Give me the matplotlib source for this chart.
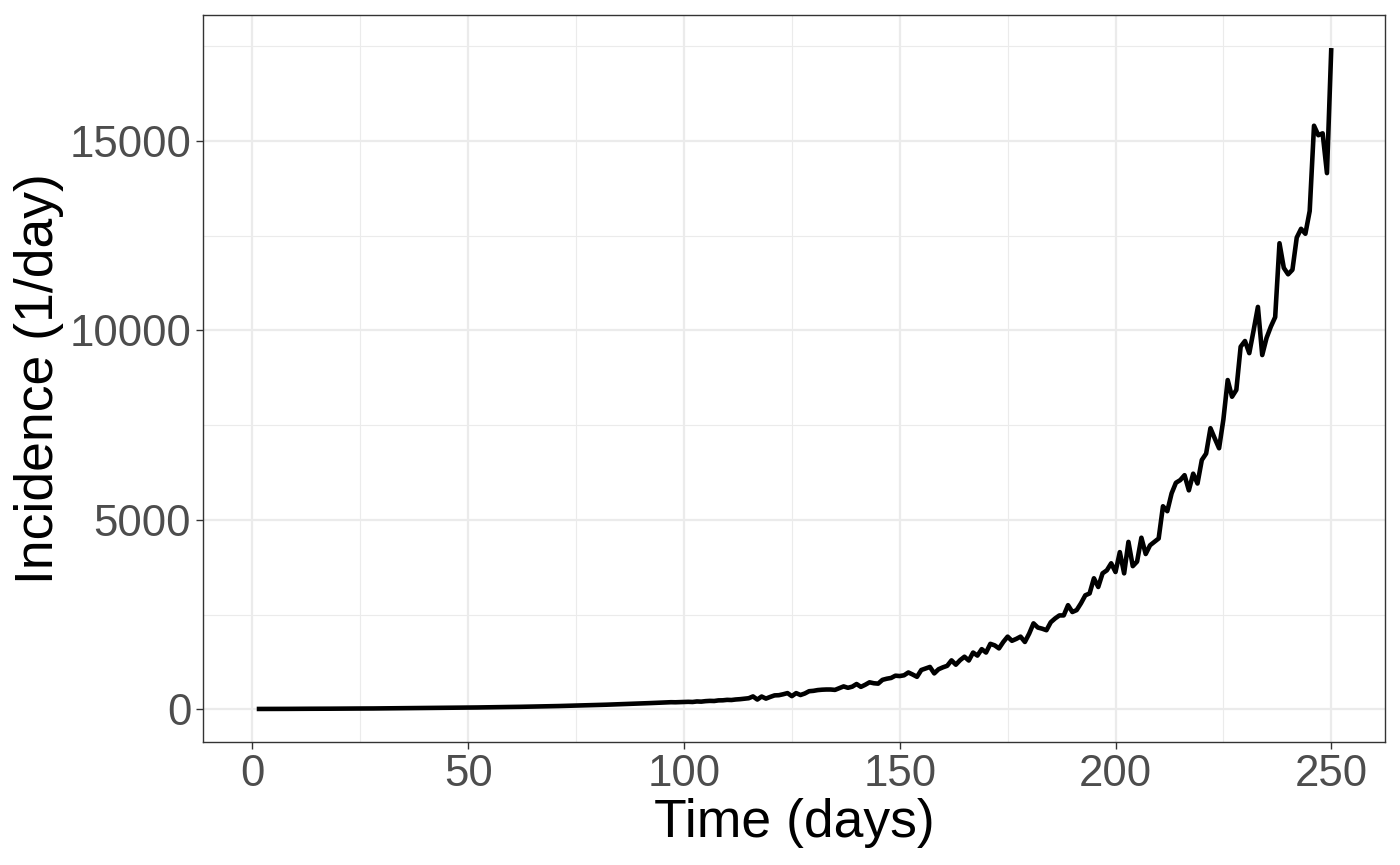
import matplotlib
matplotlib.use("Agg")
import matplotlib.pyplot as plt
from matplotlib.ticker import MultipleLocator

plt.rcParams['font.family'] = ['Liberation Sans', 'DejaVu Sans']

days = list(range(1, 251))

incidence = [
    # 1-10
    12, 12, 12, 13, 13, 14, 14, 14, 15, 15,
    # 11-20
    16, 16, 17, 17, 18, 18, 19, 19, 20, 20,
    # 21-30
    21, 21, 22, 23, 23, 24, 25, 25, 26, 27,
    # 31-40
    28, 29, 29, 30, 31, 32, 33, 34, 35, 36,
    # 41-50
    37, 38, 39, 40, 42, 43, 44, 45, 47, 48,
    # 51-60
    50, 51, 53, 54, 56, 57, 59, 61, 63, 65,
    # 61-70
    66, 68, 71, 72, 75, 77, 79, 82, 84, 87,
    # 71-80
    89, 92, 95, 98, 101, 104, 107, 110, 113, 117,
    # 81-90
    120, 124, 128, 131, 135, 139, 143, 148, 152, 157,
    # 91-100
    161, 166, 171, 176, 181, 187, 190, 188, 192, 195,
    # 101-110
    200, 196, 210, 205, 218, 225, 222, 238, 240, 252,
    # 111-120
    248, 262, 270, 282, 295, 343, 260, 340, 285, 330,
    # 121-130
    370, 375, 400, 430, 350, 430, 380, 420, 480, 490,
    # 131-140
    510, 520, 525, 525, 515, 560, 607, 570, 600, 670,
    # 141-150
    595, 650, 715, 690, 680, 780, 810, 830, 890, 880,
    # 151-160
    900, 975, 920, 860, 1040, 1080, 1120, 950, 1060, 1110,
    # 161-170
    1150, 1294, 1180, 1300, 1390, 1290, 1500, 1420, 1590, 1500,
    # 171-180
    1730, 1690, 1610, 1780, 1920, 1810, 1860, 1920, 1780, 2000,
    # 181-190
    2270, 2160, 2130, 2090, 2300, 2400, 2480, 2480, 2750, 2570,
    # 191-200
    2620, 2800, 3010, 3060, 3460, 3230, 3590, 3670, 3855, 3625,
    # 201-210
    4150, 3590, 4420, 3780, 3900, 4530, 4100, 4330, 4420, 4510,
    # 211-220
    5360, 5230, 5700, 5980, 6050, 6180, 5780, 6220, 5960, 6580,
    # 221-230
    6750, 7420, 7150, 6890, 7650, 8690, 8250, 8430, 9570, 9720,
    # 231-240
    9400, 10000, 10620, 9350, 9800, 10100, 10350, 12300, 11650, 11480,
    # 241-250
    11600, 12450, 12680, 12550, 13150, 15400, 15150, 15200, 14150, 17450,
]

x_ticks = [0, 50, 100, 150, 200, 250]
y_ticks = [0, 5000, 10000, 15000]

fig = plt.figure(figsize=(14, 8.65), dpi=100)
ax = fig.add_axes([203/1400, 1 - 742/865, (1385-203)/1400, (742-15)/865])

ax.plot(days, incidence, color='black', lw=3.3, solid_joinstyle='round', solid_capstyle='butt', zorder=3)

xr = max(days) - min(days)
ax.set_xlim(min(days) - 0.05*xr, max(days) + 0.05*xr)
yr = max(incidence) - min(incidence)
ax.set_ylim(min(incidence) - 0.05*yr, max(incidence) + 0.05*yr)

ax.set_xticks(x_ticks)
ax.set_yticks(y_ticks)
ax.xaxis.set_minor_locator(MultipleLocator(25))
ax.yaxis.set_minor_locator(MultipleLocator(2500))

ax.grid(which='major', color='#EBEBEB', lw=1.6, zorder=0)
ax.grid(which='minor', color='#EBEBEB', lw=0.8, zorder=0)
ax.set_axisbelow(True)

for s in ax.spines.values():
    s.set_color('#333333')
    s.set_linewidth(1.0)

ax.tick_params(which='major', length=5, width=1.0, color='#333333',
               labelsize=31.5, labelcolor='#4D4D4D', pad=3.5)
ax.tick_params(which='minor', length=0)

ax.set_xlabel('Time (days)', fontsize=38.5, color='black', labelpad=2)
ax.set_ylabel('Incidence (1/day)', fontsize=38.5, color='black', labelpad=4)

fig.savefig('out.png', dpi=100)
